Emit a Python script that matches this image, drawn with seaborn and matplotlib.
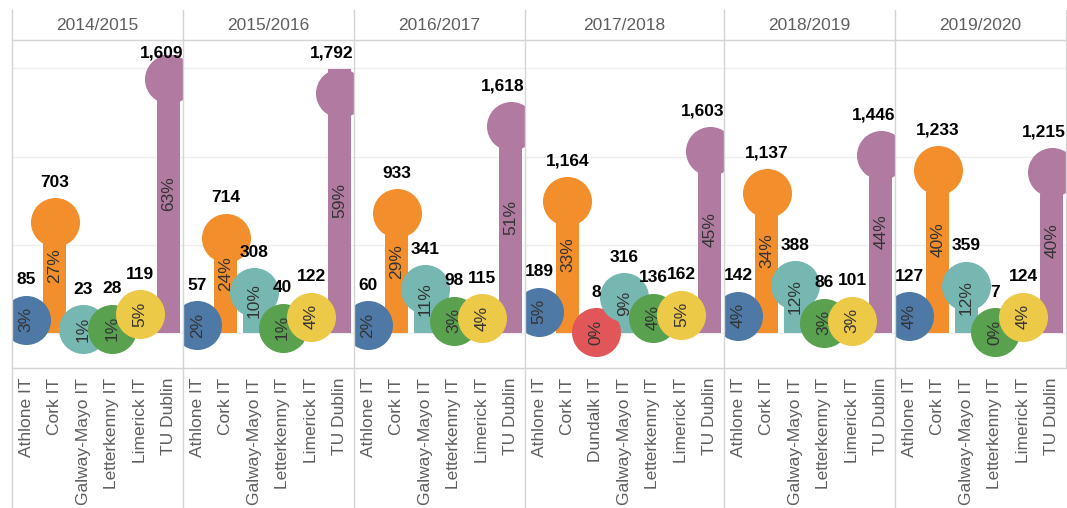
import numpy as np
import pandas as pd
import matplotlib
matplotlib.use("Agg")
import matplotlib.pyplot as plt
from matplotlib.lines import Line2D
import seaborn as sns

# academic years (one panel each)
years = ["2014/2015", "2015/2016", "2016/2017", "2017/2018", "2018/2019", "2019/2020"]

base_institutes = ["Athlone IT", "Cork IT", "Galway-Mayo IT", "Letterkenny IT", "Limerick IT", "TU Dublin"]
institutes_1718 = ["Athlone IT", "Cork IT", "Dundalk IT", "Galway-Mayo IT", "Letterkenny IT", "Limerick IT", "TU Dublin"]

# enrolment counts per institute
counts_1415 = [85, 703, 23, 28, 119, 1609]
counts_1516 = [57, 714, 308, 40, 122, 1792]
counts_1617 = [60, 933, 341, 98, 115, 1618]
counts_1718 = [189, 1164, 8, 316, 136, 162, 1603]
counts_1819 = [142, 1137, 388, 86, 101, 1446]
counts_1920 = [127, 1233, 359, 7, 124, 1215]

# stem bar lengths (share axis units)
bars_1415 = [0, 22.2, 0, 0, 0, 68.5]
bars_1516 = [0, 18.5, 4.7, 0, 0, 65.0]
bars_1617 = [0, 24.1, 5.7, 0, 0, 45.8]
bars_1718 = [0, 27.3, 0, 3.7, 0, 0, 39.7]
bars_1819 = [0, 29.0, 6.7, 0, 0, 38.4]
bars_1920 = [0, 34.7, 6.4, 0, 0, 34.3]

grid_levels = [0, 21.75, 43.5, 65.25]

palette = {
    "Athlone IT": "#4e79a7",
    "Cork IT": "#f28e2b",
    "Dundalk IT": "#e15759",
    "Galway-Mayo IT": "#76b7b2",
    "Letterkenny IT": "#59a14f",
    "Limerick IT": "#edc948",
    "TU Dublin": "#b07aa1",
}

panels = [
    (years[0], base_institutes, counts_1415, bars_1415),
    (years[1], base_institutes, counts_1516, bars_1516),
    (years[2], base_institutes, counts_1617, bars_1617),
    (years[3], institutes_1718, counts_1718, bars_1718),
    (years[4], base_institutes, counts_1819, bars_1819),
    (years[5], base_institutes, counts_1920, bars_1920),
]

W, H = 1067, 508
Y_LOW, Y_HIGH = -8.6, 72.2
LINE_COL = "#d4d4d4"
TEXT_GREY = "#5f5f5f"


def draw_panel(ax, year, cats, counts, bars):
    df = pd.DataFrame({"institute": cats, "count": counts, "bar": bars})
    df["share"] = df["count"] / df["count"].sum() * 100

    sns.barplot(data=df, x="institute", y="bar", hue="institute", order=cats,
                hue_order=cats, palette=palette, width=0.81, saturation=1,
                errorbar=None, legend=False, linewidth=0, ax=ax)
    sns.stripplot(data=df, x="institute", y="share", hue="institute", order=cats,
                  hue_order=cats, palette=palette, jitter=False, size=35.3,
                  linewidth=0, legend=False, zorder=3, ax=ax)

    value_texts = []
    for i, row in df.iterrows():
        share = row["share"]
        ax.text(i, min(share / 2 + 3, share), f"{round(share)}%", rotation=90,
                ha="center", va="center", fontsize=12.5, color="#333333", zorder=5)
        t = ax.text(i, min(share + 9.8, Y_HIGH - 3.2), f"{row['count']:,}",
                    ha="center", va="center", fontsize=12.5, fontweight="bold",
                    color="black", zorder=6)
        value_texts.append(t)

    n = len(cats)
    ax.set_xlim(-0.5, n - 0.5)
    ax.set_ylim(Y_LOW, Y_HIGH)
    ax.set_yticks(grid_levels)
    ax.set_yticklabels([])
    ax.set_xlabel("")
    ax.set_ylabel("")
    ax.grid(False)
    ax.yaxis.grid(True, color="#eeeeee", lw=0.9)
    ax.set_axisbelow(True)

    ax.set_xticks(np.arange(n - 1) + 0.5, minor=True)
    ax.tick_params(axis="y", length=0)
    ax.tick_params(axis="x", which="major", length=0, pad=7, labelrotation=90,
                   labelsize=12.5, labelcolor=TEXT_GREY)
    ax.tick_params(axis="x", which="minor", length=5, width=0.8, color="#e3e3e3",
                   direction="out")

    for side in ["left", "right"]:
        ax.spines[side].set_visible(False)
    for side in ["top", "bottom"]:
        ax.spines[side].set_color(LINE_COL)
        ax.spines[side].set_linewidth(1.0)

    ax.text(0.5, 1 + 15 / 328, year, transform=ax.transAxes, ha="center",
            va="center", fontsize=12.5, color=TEXT_GREY)
    return value_texts


def main():
    sns.set_theme(style="white")
    plt.rcParams["font.family"] = ["Liberation Sans", "DejaVu Sans"]

    fig = plt.figure(figsize=(W / 100, H / 100), dpi=100)
    widths = [len(p[1]) for p in panels]
    gs = fig.add_gridspec(1, len(panels), width_ratios=widths, left=12 / W,
                          right=1066 / W, top=1 - 40 / H, bottom=1 - 368 / H,
                          wspace=0)

    all_texts = []
    axes = []
    for k, (year, cats, counts, bars) in enumerate(panels):
        ax = fig.add_subplot(gs[0, k])
        axes.append(ax)
        all_texts.append(draw_panel(ax, year, cats, counts, bars))

    # keep the count labels inside their own panel
    fig.canvas.draw()
    renderer = fig.canvas.get_renderer()
    for ax, texts in zip(axes, all_texts):
        box = ax.get_window_extent(renderer)
        for t in texts:
            tb = t.get_window_extent(renderer)
            shift = 0
            if tb.x1 > box.x1:
                shift = box.x1 - tb.x1
            elif tb.x0 < box.x0:
                shift = box.x0 - tb.x0
            if shift:
                x, y = t.get_position()
                px, py = ax.transData.transform((x, y))
                nx, _ = ax.transData.inverted().transform((px + shift, py))
                t.set_x(nx)

    # panel separators running through header and label area
    edges = [ax.get_position().x0 for ax in axes] + [axes[-1].get_position().x1]
    for j, xe in enumerate(edges):
        bottom = 1 - 368 / H if j == len(edges) - 1 else 0
        fig.add_artist(Line2D([xe, xe], [bottom, 1 - 10 / H], color=LINE_COL,
                              lw=1.0, transform=fig.transFigure))

    fig.savefig("out.png", dpi=100)


if __name__ == "__main__":
    main()
